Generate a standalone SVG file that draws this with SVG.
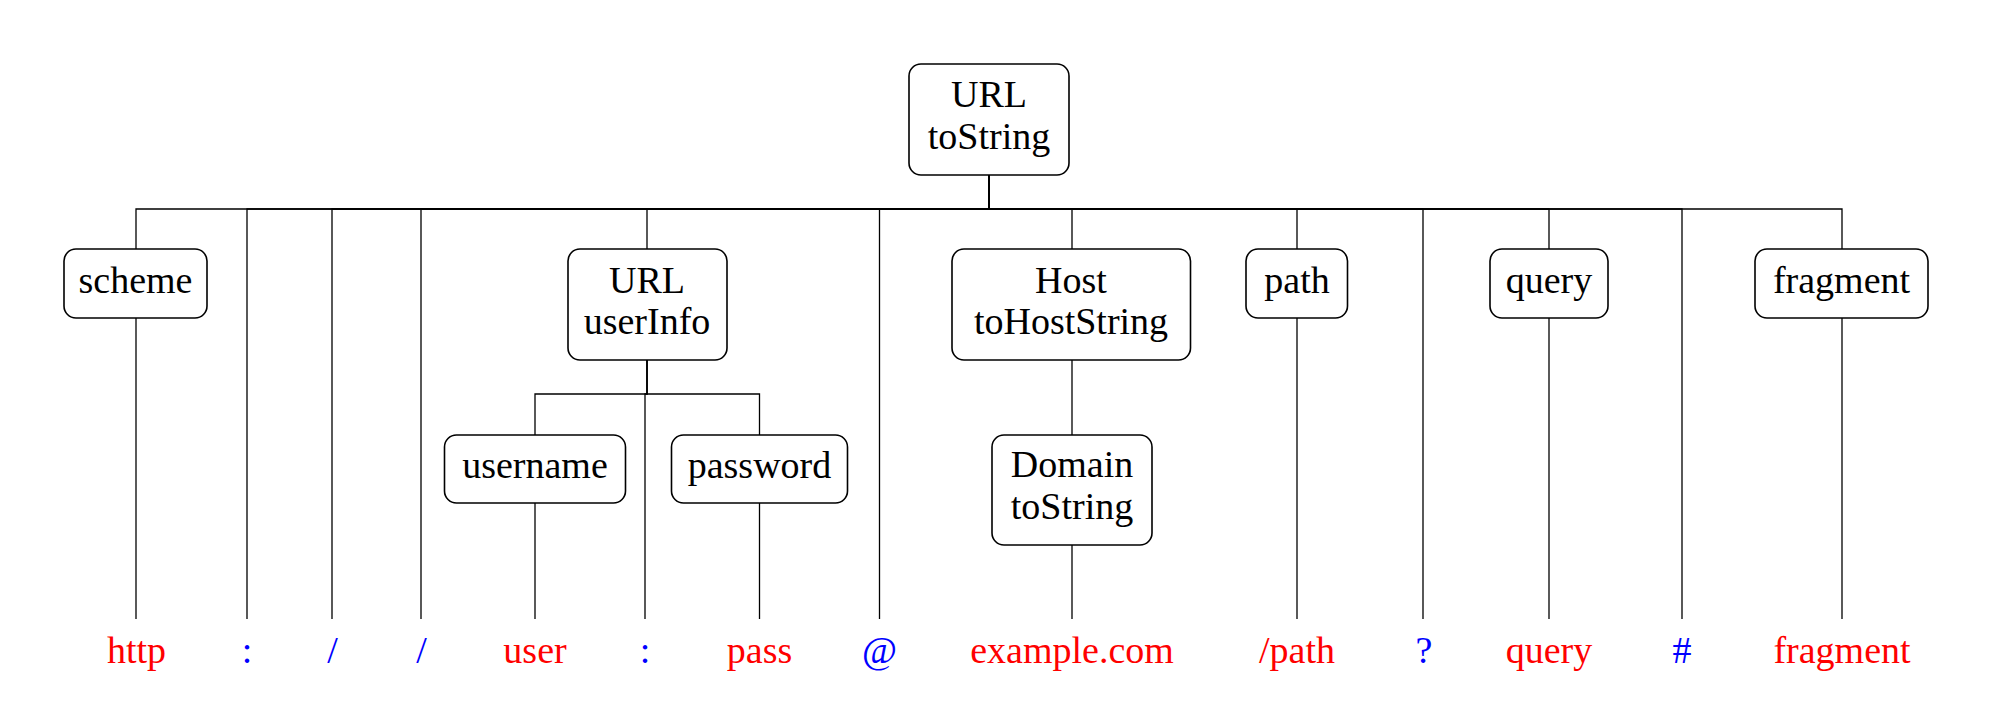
<svg xmlns="http://www.w3.org/2000/svg" width="1996" height="703" viewBox="0 0 1996 703">
<style>
.box{fill:#fff;stroke:#000;stroke-width:1.6}
.e{fill:none;stroke:#000;stroke-width:1.3}
text{font-family:"Liberation Serif","Times New Roman",serif;font-size:38px;text-anchor:middle;fill:#000}
.r{fill:#ff0000}
.b{fill:#0000ff}
</style>
<rect width="1996" height="703" fill="#fff"/>
<g id="connectors">
<path class="e" d="M989,175V209H136V249"/>
<path class="e" d="M989,175V209H247V619"/>
<path class="e" d="M989,175V209H332V619"/>
<path class="e" d="M989,175V209H421V619"/>
<path class="e" d="M989,175V209H647V249"/>
<path class="e" d="M989,175V209H879.5V619"/>
<path class="e" d="M989,175V209H1072V249"/>
<path class="e" d="M989,175V209H1297V249"/>
<path class="e" d="M989,175V209H1423V619"/>
<path class="e" d="M989,175V209H1549V249"/>
<path class="e" d="M989,175V209H1682V619"/>
<path class="e" d="M989,175V209H1842V249"/>
<path class="e" d="M136,318V619"/>
<path class="e" d="M1297,318V619"/>
<path class="e" d="M1549,318V619"/>
<path class="e" d="M1842,318V619"/>
<path class="e" d="M647,360V394H535V435"/>
<path class="e" d="M647,360V394H645V619"/>
<path class="e" d="M647,360V394H759.5V435"/>
<path class="e" d="M535,503V619"/>
<path class="e" d="M759.5,503V619"/>
<path class="e" d="M1072,360V435"/>
<path class="e" d="M1072,545V619"/>
</g>
<g id="n-url">
<rect class="box" x="909" y="64" width="160" height="111" rx="12"/>
<text x="989" y="107">URL</text>
<text x="989" y="149">toString</text>
</g>
<g id="n-scheme">
<rect class="box" x="64" y="249" width="143" height="69" rx="12"/>
<text x="135.5" y="293">scheme</text>
</g>
<g id="n-userinfo">
<rect class="box" x="568" y="249" width="159" height="111" rx="12"/>
<text x="647" y="293">URL</text>
<text x="647" y="334">userInfo</text>
</g>
<g id="n-host">
<rect class="box" x="952" y="249" width="238.5" height="111" rx="12"/>
<text x="1071" y="293">Host</text>
<text x="1071" y="334">toHostString</text>
</g>
<g id="n-path">
<rect class="box" x="1246" y="249" width="101.5" height="69" rx="12"/>
<text x="1297" y="293">path</text>
</g>
<g id="n-query">
<rect class="box" x="1490" y="249" width="118" height="69" rx="12"/>
<text x="1549" y="293">query</text>
</g>
<g id="n-fragment">
<rect class="box" x="1755" y="249" width="173" height="69" rx="12"/>
<text x="1841.5" y="293">fragment</text>
</g>
<g id="n-username">
<rect class="box" x="444.5" y="435" width="181" height="68" rx="12"/>
<text x="535" y="478">username</text>
</g>
<g id="n-password">
<rect class="box" x="671.5" y="435" width="176" height="68" rx="12"/>
<text x="759.5" y="478">password</text>
</g>
<g id="n-domain">
<rect class="box" x="992" y="435" width="160" height="110" rx="12"/>
<text x="1072" y="477">Domain</text>
<text x="1072" y="519">toString</text>
</g>
<g id="leaves">
<g id="l-http"><text class="r" x="136.5" y="663">http</text></g>
<g id="l-colon1"><text class="b" x="247" y="663">:</text></g>
<g id="l-slash1"><text class="b" x="332.5" y="663">/</text></g>
<g id="l-slash2"><text class="b" x="421.5" y="663">/</text></g>
<g id="l-user"><text class="r" x="535" y="663">user</text></g>
<g id="l-colon2"><text class="b" x="645" y="663">:</text></g>
<g id="l-pass"><text class="r" x="759.5" y="663">pass</text></g>
<g id="l-at"><text class="b" x="879.5" y="663">@</text></g>
<g id="l-host"><text class="r" x="1072" y="663">example.com</text></g>
<g id="l-path"><text class="r" x="1297" y="663">/path</text></g>
<g id="l-q"><text class="b" x="1424" y="663">?</text></g>
<g id="l-query"><text class="r" x="1549" y="663">query</text></g>
<g id="l-hash"><text class="b" x="1682" y="663">#</text></g>
<g id="l-fragment"><text class="r" x="1842" y="663">fragment</text></g>
</g>
</svg>
